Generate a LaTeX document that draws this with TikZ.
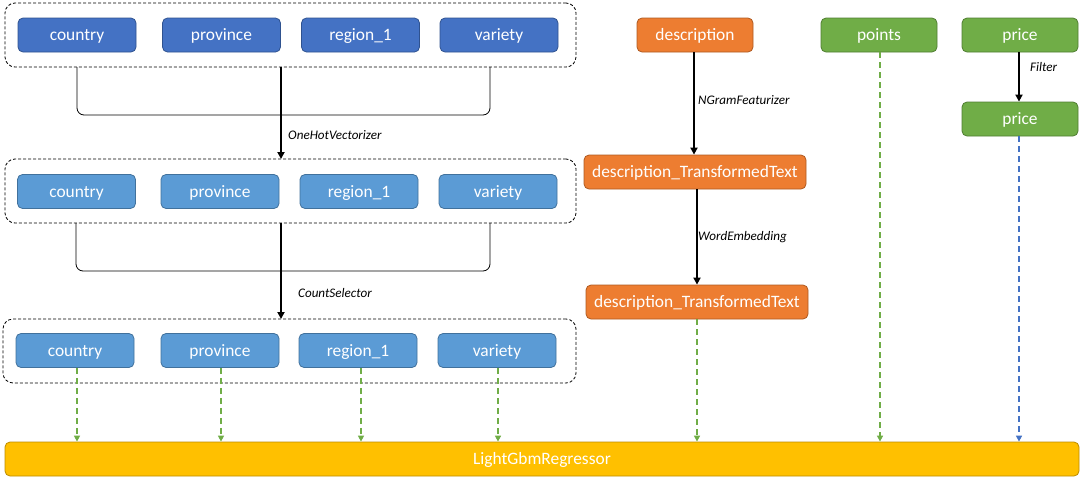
\documentclass[tikz,border=0pt]{standalone}
\usepackage{fontspec}
\setmainfont{Carlito}
\usetikzlibrary{arrows.meta}
\definecolor{dblue}{HTML}{4472C4}
\definecolor{dblueb}{HTML}{2F528F}
\definecolor{lblue}{HTML}{5B9BD5}
\definecolor{lblueb}{HTML}{41719C}
\definecolor{orng}{HTML}{ED7D31}
\definecolor{orngb}{HTML}{AE5A21}
\definecolor{grn}{HTML}{70AD47}
\definecolor{grnb}{HTML}{507E32}
\definecolor{gold}{HTML}{FFC000}
\definecolor{goldb}{HTML}{BC8C00}
\definecolor{dashblue}{HTML}{4472C4}
\tikzset{
  box/.style={rectangle, rounded corners=5pt, draw, line width=0.8pt, text=white,
    font=\fontsize{17.4}{20}\selectfont, inner sep=0pt, minimum height=34pt,
    text height=11pt, text depth=0pt},
  bbox/.style={box, fill=dblue, draw=dblueb, minimum width=118pt},
  lbox/.style={box, fill=lblue, draw=lblueb, minimum width=118pt},
  obox/.style={box, fill=orng, draw=orngb},
  gbox/.style={box, fill=grn, draw=grnb, minimum width=116pt},
  grp/.style={rectangle, rounded corners=10pt, draw, line width=0.8pt, dash pattern=on 3pt off 2pt, inner sep=0pt},
  flow/.style={-{Triangle[length=7pt,width=7pt]}, line width=1.8pt},
  gdash/.style={-{Triangle[length=6pt,width=6pt]}, line width=1.5pt, draw=grn, dash pattern=on 6pt off 4pt},
  bdash/.style={-{Triangle[length=6pt,width=6pt]}, line width=1.5pt, draw=dashblue, dash pattern=on 6pt off 4pt},
  lbl/.style={font=\itshape\fontsize{13.1}{15}\selectfont, anchor=west, inner sep=0pt},
  brk/.style={line width=0.8pt, rounded corners=7pt}
}
\begin{document}
\begin{tikzpicture}[x=1pt,y=-1pt]
\useasboundingbox (0,0) rectangle (1085,480);
% group 1
\node[grp, minimum width=571pt, minimum height=64pt] (g1) at (290.5,35) {};
\node[bbox] (c1) at (77,35) {country};
\node[bbox] (p1) at (221.5,35) {province};
\node[bbox] (r1) at (360.5,35) {region\_1};
\node[bbox] (v1) at (499,35) {variety};
% group 2
\node[grp, minimum width=571pt, minimum height=64pt] (g2) at (290.5,191) {};
\node[lbox] (c2) at (76.5,191.5) {country};
\node[lbox] (p2) at (220,191.5) {province};
\node[lbox] (r2) at (359,191.5) {region\_1};
\node[lbox] (v2) at (498,191.5) {variety};
% group 3
\node[grp, minimum width=573pt, minimum height=64pt] (g3) at (289.5,351) {};
\node[lbox] (c3) at (75,350.5) {country};
\node[lbox] (p3) at (220,350.5) {province};
\node[lbox] (r3) at (358,350.5) {region\_1};
\node[lbox] (v3) at (497,350.5) {variety};
% brackets
\draw[brk] (77,67) |- (490,115) -- (490,67);
\draw[brk] (76,223) |- (490,271) -- (490,223);
\coordinate (a1s) at (281,67);
\coordinate (a1e) at (281,159);
\coordinate (a2s) at (281,223);
\coordinate (a2e) at (281,319);
\draw[flow] (a1s) -- (a1e);
\draw[flow] (a2s) -- (a2e);
\node[lbl] (l1) at (288,135) {OneHotVectorizer};
\node[lbl] (l2) at (298,293) {CountSelector};
% description column
\node[obox, minimum width=116pt] (d) at (695,35) {description};
\node[obox, minimum width=222pt] (dt1) at (695,172) {description\_TransformedText};
\node[obox, minimum width=222pt] (dt2) at (697,302) {description\_TransformedText};
\draw[flow] (d.south -| 694,0) -- (dt1.north -| 694,0);
\draw[flow] (dt1.south -| 697,0) -- (dt2.north -| 697,0);
\node[lbl] (l3) at (698,100) {NGramFeaturizer};
\node[lbl] (l4) at (698,237) {WordEmbedding};
% points, price
\node[gbox] (pts) at (879,35) {points};
\node[gbox] (pr1) at (1020,35) {price};
\node[gbox] (pr2) at (1020,119) {price};
\draw[flow] (pr1.south -| 1019,0) -- (pr2.north -| 1019,0);
\node[lbl] (l5) at (1030,67) {Filter};
% regressor
\node[box, fill=gold, draw=goldb, minimum width=1074pt] (lgb) at (542,459) {LightGbmRegressor};
% dashed arrows
\draw[gdash] (c3.south -| 77,0) -- (lgb.north -| 77,0);
\draw[gdash] (p3.south -| 221,0) -- (lgb.north -| 221,0);
\draw[gdash] (r3.south -| 361,0) -- (lgb.north -| 361,0);
\draw[gdash] (v3.south -| 498,0) -- (lgb.north -| 498,0);
\draw[gdash] (dt2.south -| 697,0) -- (lgb.north -| 697,0);
\draw[gdash] (pts.south -| 880,0) -- (lgb.north -| 880,0);
\draw[bdash] (pr2.south -| 1019,0) -- (lgb.north -| 1019,0);
\end{tikzpicture}
\end{document}
